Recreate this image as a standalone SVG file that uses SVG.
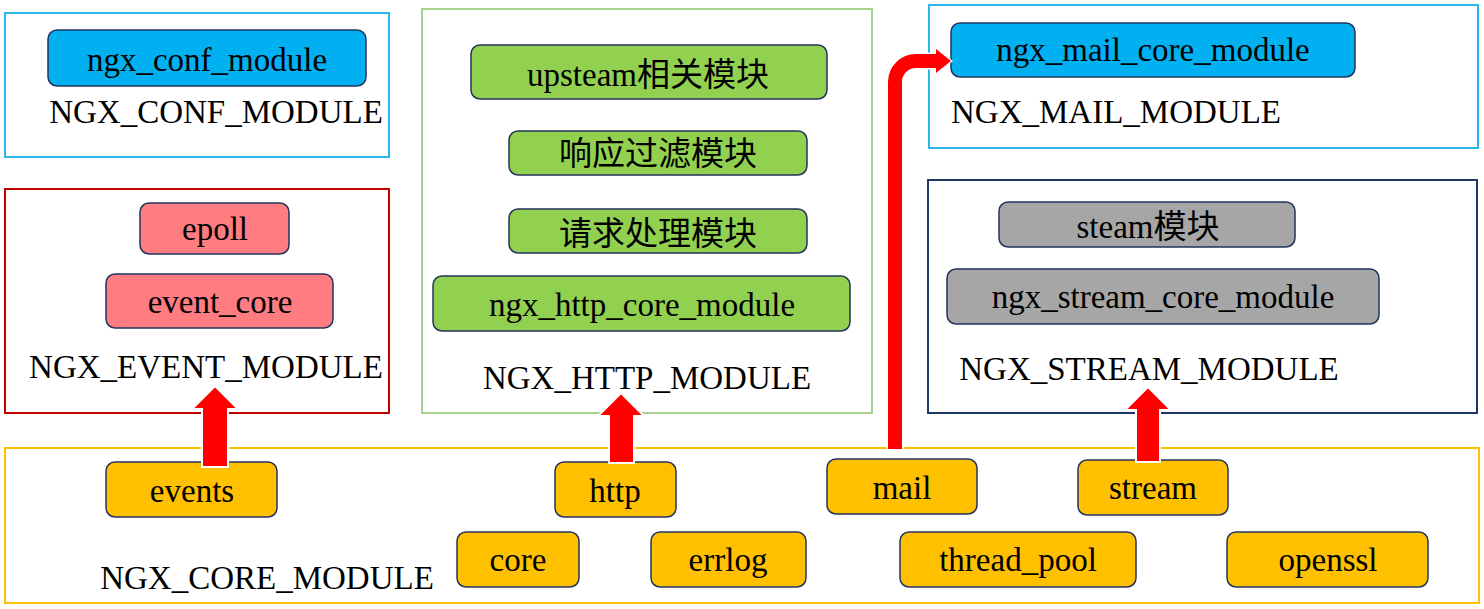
<svg xmlns="http://www.w3.org/2000/svg" width="1484" height="609" viewBox="0 0 1484 609">
<style>
.grp{fill:#fff;stroke-width:2}
.node{stroke:#23335e;stroke-width:1.5}
.t{font-family:"Liberation Serif","Times New Roman",serif;font-size:33px;fill:#000;text-anchor:middle}
.cj{font-family:"Liberation Serif","Noto Sans CJK SC",serif;font-size:33px;fill:#000;text-anchor:middle}
.blue{fill:#00b0f0}.red{fill:#ff7c80}.green{fill:#92d050}.gray{fill:#a6a6a6}.orange{fill:#ffc000}
.arrow{fill:#ff0000;stroke:#fff;stroke-width:2}
</style>
<rect width="1484" height="609" fill="#fff"/>

<g id="conf_group">
<rect class="grp" x="5" y="13" width="384" height="144" stroke="#2ab6ea"/>
<text class="t" x="216" y="123">NGX_CONF_MODULE</text>
</g>
<g id="ngx_conf_module">
<rect class="node blue" x="48" y="30" width="318" height="56" rx="9"/>
<text class="t" x="207" y="71">ngx_conf_module</text>
</g>

<g id="event_group">
<rect class="grp" x="5" y="189" width="384" height="224" stroke="#c00000"/>
<text class="t" x="206" y="378">NGX_EVENT_MODULE</text>
</g>
<g id="epoll">
<rect class="node red" x="140" y="203" width="149" height="51" rx="9"/>
<text class="t" x="215" y="240">epoll</text>
</g>
<g id="event_core">
<rect class="node red" x="106" y="274" width="227" height="54" rx="9"/>
<text class="t" x="220" y="313">event_core</text>
</g>

<g id="http_group">
<rect class="grp" x="422" y="9" width="450" height="404" stroke="#a9d18e"/>
<text class="t" x="647" y="389">NGX_HTTP_MODULE</text>
</g>
<g id="upstream">
<rect class="node green" x="471" y="45" width="356" height="54" rx="9"/>
<text class="cj" x="648" y="86">upsteam相关模块</text>
</g>
<g id="filter">
<rect class="node green" x="509" y="131" width="298" height="44" rx="9"/>
<text class="cj" x="658" y="165">响应过滤模块</text>
</g>
<g id="handler">
<rect class="node green" x="509" y="209" width="298" height="44" rx="9"/>
<text class="cj" x="658" y="245">请求处理模块</text>
</g>
<g id="ngx_http_core_module">
<rect class="node green" x="433" y="276" width="417" height="55" rx="9"/>
<text class="t" x="642" y="316">ngx_http_core_module</text>
</g>

<g id="mail_group">
<rect class="grp" x="929" y="5" width="549" height="143" stroke="#2ab6ea"/>
<text class="t" x="1116" y="123">NGX_MAIL_MODULE</text>
</g>
<g id="ngx_mail_core_module">
<rect class="node blue" x="951" y="23" width="404" height="54" rx="9"/>
<text class="t" x="1153" y="61">ngx_mail_core_module</text>
</g>

<g id="stream_group">
<rect class="grp" x="928" y="180" width="549" height="233" stroke="#203864"/>
<text class="t" x="1149" y="380">NGX_STREAM_MODULE</text>
</g>
<g id="steam">
<rect class="node gray" x="999" y="202" width="296" height="45" rx="9"/>
<text class="cj" x="1148" y="238">steam模块</text>
</g>
<g id="ngx_stream_core_module">
<rect class="node gray" x="947" y="269" width="432" height="55" rx="9"/>
<text class="t" x="1163" y="308">ngx_stream_core_module</text>
</g>

<g id="core_group">
<rect class="grp" x="5" y="448" width="1474" height="155" stroke="#ffc000"/>
<text class="t" x="267" y="589">NGX_CORE_MODULE</text>
</g>
<g id="events">
<rect class="node orange" x="106" y="462" width="171" height="55" rx="9"/>
<text class="t" x="192" y="502">events</text>
</g>
<g id="http">
<rect class="node orange" x="555" y="462" width="121" height="55" rx="9"/>
<text class="t" x="615" y="502">http</text>
</g>
<g id="mail">
<rect class="node orange" x="827" y="459" width="150" height="55" rx="9"/>
<text class="t" x="902" y="499">mail</text>
</g>
<g id="stream">
<rect class="node orange" x="1078" y="460" width="150" height="55" rx="9"/>
<text class="t" x="1153" y="499">stream</text>
</g>
<g id="core">
<rect class="node orange" x="457" y="532" width="122" height="55" rx="9"/>
<text class="t" x="518" y="571">core</text>
</g>
<g id="errlog">
<rect class="node orange" x="651" y="532" width="155" height="55" rx="9"/>
<text class="t" x="728" y="571">errlog</text>
</g>
<g id="thread_pool">
<rect class="node orange" x="900" y="532" width="236" height="55" rx="9"/>
<text class="t" x="1018" y="571">thread_pool</text>
</g>
<g id="openssl">
<rect class="node orange" x="1227" y="532" width="201" height="55" rx="9"/>
<text class="t" x="1328" y="571">openssl</text>
</g>

<g id="connectors">
<polygon class="arrow" points="202,467 202,409 192,409 215,386 238,409 228,409 228,467"/>
<polygon class="arrow" points="609,463 609,416 598,416 621,393 644,416 634,416 634,463"/>
<polygon class="arrow" points="1136,462 1136,410 1125,410 1148,387 1171,410 1160,410 1160,462"/>
<path d="M895 449 V82 A21 21 0 0 1 916 61 H938" fill="none" stroke="#fff" stroke-width="17"/>
<polygon points="935,47 953,61 935,75" fill="#fff"/>
<path d="M895 449 V82 A21 21 0 0 1 916 61 H938" fill="none" stroke="#ff0000" stroke-width="14"/>
<polygon points="936,49 951,61 936,73" fill="#ff0000"/>
</g>
</svg>
